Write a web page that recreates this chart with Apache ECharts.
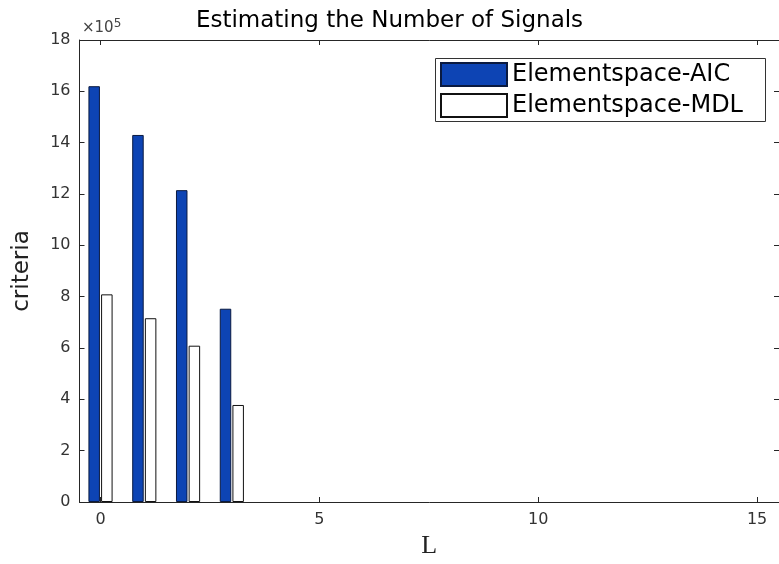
<!DOCTYPE html>
<html>
<head>
<meta charset="utf-8">
<script src="https://cdn.jsdelivr.net/npm/echarts@6/dist/echarts.min.js"></script>
<style>html,body{margin:0;padding:0;background:#fff}#c{width:779px;height:564px}</style>
</head>
<body>
<div id="c"></div>
<script>
// ---- data ----
const L_values = [0, 1, 2, 3];
const aicValues = [1620000, 1430000, 1215000, 753000];
const mdlValues = [809000, 716000, 609000, 378000];
const seriesNames = ['Elementspace-AIC', 'Elementspace-MDL'];
const xTickValues = [0, 5, 10, 15];
const yTickStep = 200000;
const yMax = 1800000;
const titleText = 'Estimating the Number of Signals';
const xLabel = 'L';
const yLabel = 'criteria';

const chart = echarts.init(document.getElementById('c'), null, {renderer: 'canvas'});
const axisColor = '#262626';
const sans = 'DejaVu Sans';

const xBase = {
  type: 'value', min: -0.48, max: 15.5,
  splitLine: {show: false},
  axisLine: {show: true, onZero: false, lineStyle: {color: axisColor, width: 1}}
};
const yBase = {
  type: 'value', min: 0, max: yMax, interval: yTickStep,
  splitLine: {show: false},
  axisLine: {show: true, onZero: false, lineStyle: {color: axisColor, width: 1}}
};

chart.setOption({
  animation: false,
  backgroundColor: '#fff',
  title: {
    text: titleText, left: 'center', top: 5,
    textStyle: {fontFamily: sans, fontSize: 23, fontWeight: 'normal', color: '#000'}
  },
  grid: {left: 79.5, top: 40, right: -2, bottom: 62, containLabel: false},
  legend: {
    orient: 'vertical', left: 440, top: 62,
    itemWidth: 66, itemHeight: 23, itemGap: 6,
    padding: 0, icon: 'rect',
    textStyle: {fontFamily: sans, fontSize: 24, color: '#000'},
    data: seriesNames
  },
  graphic: [
    {type: 'rect', left: 433, top: 56, shape: {width: 330, height: 63},
     style: {fill: 'none', stroke: '#333', lineWidth: 1}, z: 10, silent: true},
    {type: 'text', left: 82, top: 18,
     style: {text: '×10{s|5}', font: '15px "DejaVu Sans"', fill: '#444',
       rich: {s: {fontSize: 12, fontFamily: sans, fill: '#444', verticalAlign: 'top', padding: [0, 0, 8, 0]}}}}
  ],
  xAxis: [
    Object.assign({}, xBase, {
      position: 'bottom',
      name: xLabel, nameLocation: 'middle', nameGap: 30,
      nameTextStyle: {fontFamily: 'Liberation Serif', fontSize: 26, color: '#222'},
      axisTick: {show: true, inside: true, length: 5, customValues: xTickValues, lineStyle: {color: axisColor}},
      axisLabel: {show: true, customValues: xTickValues, margin: 10,
        fontFamily: sans, fontSize: 16, color: '#333'}
    }),
    Object.assign({}, xBase, {
      position: 'top',
      axisTick: {show: true, inside: true, length: 5, customValues: xTickValues, lineStyle: {color: axisColor}},
      axisLabel: {show: false}
    })
  ],
  yAxis: [
    Object.assign({}, yBase, {
      position: 'left',
      name: yLabel, nameLocation: 'middle', nameGap: 46, nameRotate: 90,
      nameTextStyle: {fontFamily: sans, fontSize: 23, color: '#222'},
      axisTick: {show: true, inside: true, length: 5, lineStyle: {color: axisColor}},
      axisLabel: {show: true, margin: 9, fontFamily: sans, fontSize: 16, color: '#333',
        formatter: v => String(Math.round(v / 1e5))}
    }),
    Object.assign({}, yBase, {
      position: 'right',
      axisTick: {show: true, inside: true, length: 5, lineStyle: {color: axisColor}},
      axisLabel: {show: false}
    })
  ],
  series: [
    {
      name: seriesNames[0], type: 'bar', xAxisIndex: 0, yAxisIndex: 0,
      barWidth: 11.5, barGap: '10%',
      itemStyle: {color: '#0d44b4', borderColor: '#0a1a40', borderWidth: 1},
      data: L_values.map((x, i) => [x, aicValues[i]])
    },
    {
      name: seriesNames[1], type: 'bar', xAxisIndex: 0, yAxisIndex: 0,
      barWidth: 11.5, barGap: '10%',
      itemStyle: {color: '#ffffff', borderColor: '#111', borderWidth: 1},
      data: L_values.map((x, i) => [x, mdlValues[i]])
    }
  ]
});
</script>
</body>
</html>
